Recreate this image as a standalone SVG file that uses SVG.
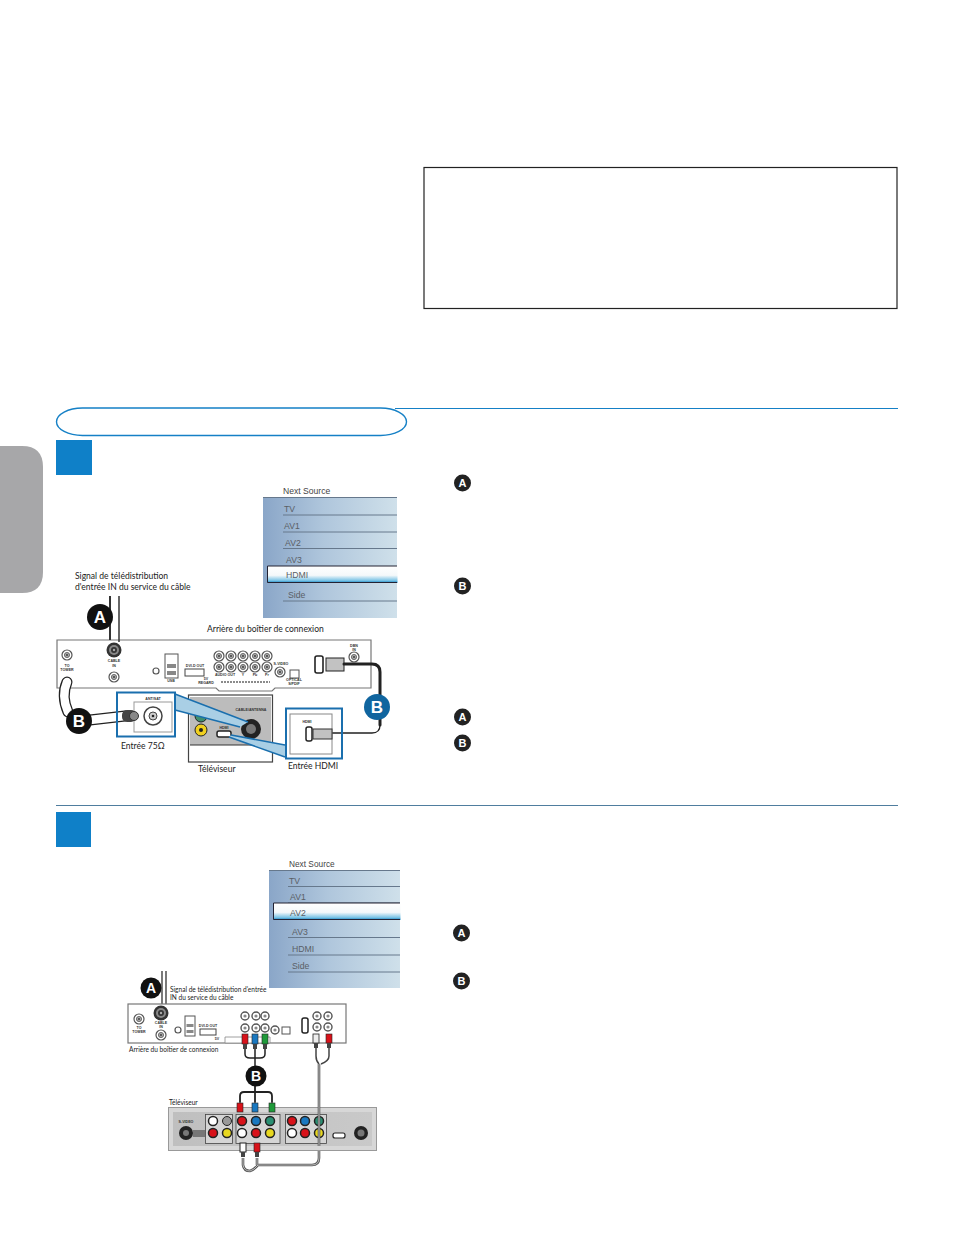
<svg xmlns="http://www.w3.org/2000/svg" xmlns:xlink="http://www.w3.org/1999/xlink" width="954" height="1235" viewBox="0 0 954 1235">
<style>
.lab{font-family:"Lato","Liberation Sans",sans-serif;font-size:8.55px;fill:#222}
.labs{font-family:"Lato","Liberation Sans",sans-serif;font-size:6.55px;fill:#222}
.menu{font-family:"Liberation Sans",Arial,sans-serif;font-size:8.7px;fill:#5a5f66}
.menuh{font-family:"Liberation Sans",Arial,sans-serif;font-size:8.6px;fill:#444}
.mini{font-family:"Liberation Sans",Arial,sans-serif;font-size:3.6px;font-weight:700;fill:#333;text-anchor:middle}
.bl{font-family:"Liberation Sans",Arial,sans-serif;font-weight:700;fill:#fff;text-anchor:middle}
.ln{stroke:#66788c;stroke-width:1;fill:none}
.cbO{fill:none;stroke:#222;stroke-linecap:round;stroke-linejoin:round}
.cbI{fill:none;stroke:#fff;stroke-linecap:round;stroke-linejoin:round}
.dev{fill:#fff;stroke:#777;stroke-width:1.200}
.jk{fill:#fff;stroke:#555;stroke-width:1.200}
</style>
<defs>
<linearGradient id="mg"><stop offset="0" stop-color="#8aa6c8"/><stop offset=".45" stop-color="#afc6dc"/><stop offset="1" stop-color="#cfe0ea"/></linearGradient>
<linearGradient id="hg" x1="0" y1="0" x2="0" y2="1"><stop offset="0" stop-color="#fff"/><stop offset=".55" stop-color="#f4f8fa"/><stop offset=".85" stop-color="#7cc4e6"/><stop offset="1" stop-color="#0f7fc0"/></linearGradient>
<linearGradient id="pg" x1="0" y1="0" x2="1" y2="0"><stop offset="0" stop-color="#bfbfbf"/><stop offset="1" stop-color="#c9c9c9"/></linearGradient>
<g id="jack"><circle r="5" class="jk"/><circle r="2.600" fill="#aaa" stroke="#555" stroke-width=".8"/><circle r=".9" fill="#333"/></g>
<g id="rca"><circle r="4" fill="#fff" stroke="#555" stroke-width="1.400"/><circle r="1.600" fill="#888"/></g>
<g id="knot"><circle r="7.500" fill="#333"/><circle r="5" fill="#888"/><circle r="3" fill="#333"/><circle r="1.200" fill="#aaa"/></g>
</defs>
<rect width="954" height="1235" fill="#fff"/>

<g id="note-box"><rect x="424" y="167.500" width="473" height="141" fill="#fff" stroke="#222" stroke-width="1.200"/></g>
<g id="side-tab"><path d="M0 446H22Q43 446 43 467V572Q43 593 22 593H0Z" fill="#a7a7a9"/></g>

<g id="rules">
<path d="M395 408.500H898" stroke="#1580c6" stroke-width="1.100"/>
<path d="M56 805.500H898" stroke="#4f7d9e" stroke-width="1"/>
</g>
<g id="title-pill"><rect x="56.500" y="408" width="350" height="27.500" rx="26" ry="13.700" fill="#fff" stroke="#1580c6" stroke-width="1.400"/></g>
<g id="step-1"><rect x="56" y="440" width="36" height="35" fill="#0f80c8"/></g>
<g id="step-2"><rect x="56" y="812" width="35" height="35" fill="#0f80c8"/></g>

<g id="markers">
<g id="m-a1"><circle cx="462.500" cy="483" r="8.500" fill="#222"/><text class="bl" x="462.500" y="487" font-size="11">A</text></g>
<g id="m-b1"><circle cx="462.500" cy="586" r="8.500" fill="#222"/><text class="bl" x="462.500" y="590" font-size="11">B</text></g>
<g id="m-a2"><circle cx="462.500" cy="717" r="8.500" fill="#222"/><text class="bl" x="462.500" y="721" font-size="11">A</text></g>
<g id="m-b2"><circle cx="462.500" cy="743" r="8.500" fill="#222"/><text class="bl" x="462.500" y="747" font-size="11">B</text></g>
<g id="m-a3"><circle cx="461.500" cy="933" r="8.500" fill="#222"/><text class="bl" x="461.500" y="937" font-size="11">A</text></g>
<g id="m-b3"><circle cx="461.500" cy="981" r="8.500" fill="#222"/><text class="bl" x="461.500" y="985" font-size="11">B</text></g>
</g>

<g id="menu-1">
<text x="283" y="494" class="menuh">Next Source</text>
<rect x="263" y="497" width="134" height="121" fill="url(#mg)"/>
<path class="ln" d="M263 497.500H397M283 515H397M283 532H397M283 548.500H397M283 601H397"/>
<text x="284" y="512" class="menu">TV</text>
<text x="284" y="529" class="menu">AV1</text>
<text x="285" y="546" class="menu">AV2</text>
<text x="286" y="563" class="menu">AV3</text>
<rect x="267.500" y="566" width="130" height="17" fill="url(#hg)"/>
<path d="M397 566H267.500V582.500H397" fill="none" stroke="#223" stroke-width="1"/>
<text x="286" y="578" class="menu">HDMI</text>
<text x="288" y="598" class="menu">Side</text>
</g>

<g id="menu-2">
<text x="289" y="867" class="menuh" style="font-size:8.300px">Next Source</text>
<rect x="269" y="870" width="131" height="118" fill="url(#mg)"/>
<path class="ln" d="M269 870.500H400M288 886.500H400M288 903H400M288 937.500H400M288 955H400M288 972H400"/>
<text x="289" y="884" class="menu">TV</text>
<text x="290" y="900" class="menu">AV1</text>
<rect x="273.500" y="903" width="127" height="17" fill="url(#hg)"/>
<path d="M400 903H273.500V919.500H400" fill="none" stroke="#223" stroke-width="1"/>
<text x="290" y="916" class="menu">AV2</text>
<text x="292" y="935" class="menu">AV3</text>
<text x="292" y="952" class="menu">HDMI</text>
<text x="292" y="969" class="menu">Side</text>
</g>

<g id="captions">
<text x="75" y="579" class="lab">Signal de télédistribution</text>
<text x="75" y="590" class="lab">d'entrée IN du service du câble</text>
<text x="207" y="632" class="lab">Arrière du boîtier de connexion</text>
<text x="121" y="749" class="lab">Entrée 75Ω</text>
<text x="198" y="772" class="lab">Téléviseur</text>
<text x="288" y="769" class="lab">Entrée HDMI</text>
<text x="170" y="992" class="labs">Signal de télédistribution d'entrée</text>
<text x="170" y="1000" class="labs">IN du service du câble</text>
<text x="129" y="1052" class="labs">Arrière du boîtier de connexion</text>
<text x="169" y="1105" class="labs">Téléviseur</text>
</g>

<g id="settop-1">
<path class="dev" d="M57 640H371V688H275L272 691H219L216 688H57Z"/>
<use xlink:href="#jack" x="67" y="655"/>
<text class="mini" x="67" y="667">TO</text><text class="mini" x="67" y="671">TOWER</text>
<use xlink:href="#knot" x="114" y="650"/>
<text class="mini" x="114" y="662">CABLE</text><text class="mini" x="114" y="667">IN</text>
<use xlink:href="#jack" x="114" y="677"/>
<circle cx="156" cy="671" r="3" class="jk"/>
<rect x="165" y="654" width="13" height="24" fill="#fff" stroke="#555"/>
<rect x="167" y="664" width="9" height="4" fill="#888"/><rect x="167" y="671" width="9" height="4" fill="#888"/>
<text class="mini" x="171" y="682">USB</text>
<text class="mini" x="195" y="667">DVI-D OUT</text>
<rect x="185" y="669" width="19" height="7" fill="#fff" stroke="#444"/>
<text class="mini" x="206" y="680">5V</text><text class="mini" x="206" y="684">REGARD</text>
<use xlink:href="#jack" x="219" y="656"/><use xlink:href="#jack" x="231" y="656"/><use xlink:href="#jack" x="243" y="656"/><use xlink:href="#jack" x="255" y="656"/><use xlink:href="#jack" x="267" y="656"/>
<use xlink:href="#jack" x="219" y="667"/><use xlink:href="#jack" x="231" y="667"/><use xlink:href="#jack" x="243" y="667"/><use xlink:href="#jack" x="255" y="667"/><use xlink:href="#jack" x="267" y="667"/>
<text class="mini" x="225" y="676">AUDIO OUT</text><text class="mini" x="243" y="676">Y</text><text class="mini" x="255" y="676">Pb</text><text class="mini" x="267" y="676">Pr</text>
<text class="mini" x="281" y="665">S-VIDEO</text><use xlink:href="#jack" x="280" y="672"/>
<rect x="290" y="670" width="9" height="8" fill="#fff" stroke="#555"/>
<text class="mini" x="294" y="681">OPTICAL</text><text class="mini" x="294" y="685">S/PDIF</text>
<path d="M221 682H270" stroke="#666" stroke-width="1.500" stroke-dasharray="2 1"/>
<text class="mini" x="354" y="647">DBN</text><text class="mini" x="354" y="651">IN</text>
<use xlink:href="#jack" x="354" y="657"/>
<rect x="315" y="656" width="8" height="17" rx="2" fill="#fff" stroke="#222" stroke-width="1.600"/>
<rect x="326" y="658" width="18" height="13" fill="#c2c2c2" stroke="#222"/>
</g>

<g id="tv-1">
<rect x="188.500" y="695" width="84" height="67" fill="#fff" stroke="#444" stroke-width="1.200"/>
<rect x="190" y="697" width="81" height="48" fill="#bcbcbc"/>
<path d="M190 745H271" stroke="#333" stroke-width="1"/>
<circle cx="201" cy="716" r="6" fill="#3f8f6f" stroke="#222"/>
<circle cx="201" cy="730" r="6" fill="#f0d020" stroke="#222"/><circle cx="201" cy="730" r="2" fill="#222"/>
<rect x="217" y="731" width="14" height="6" rx="2" fill="#fff" stroke="#222" stroke-width="1.500"/>
<text class="mini" x="224" y="729">HDMI</text>
<text class="mini" x="251" y="711">CABLE/ANTENNA</text>
<circle cx="251" cy="729" r="10" fill="#222"/><circle cx="251" cy="729" r="5" fill="#777"/>
</g>

<g id="connectors">
<polygon points="175,694 175,710 240,727 248,722" fill="#a9cfe5"/>
<path d="M175 694 248 722M175 710 240 727" stroke="#1a6fae" stroke-width="1.500" fill="none"/>
<polygon points="231,735 285,745 285,757 229,737" fill="#a9cfe5"/>
<path d="M231 735 285 745M229 737 285 757" stroke="#1a6fae" stroke-width="1.500" fill="none"/>

<path d="M110 596V640" stroke="#333" stroke-width="2"/><path d="M119 596V642" stroke="#333" stroke-width="1.500"/>
<path class="cbO" stroke-width="11" d="M67 682Q61 696 68 712"/><path class="cbI" stroke-width="8.500" d="M67 682Q61 696 68 712"/>
<path class="cbO" stroke-width="11" d="M90 720 125 716"/><path class="cbI" stroke-width="8.500" d="M90 720 125 716"/>
<path class="cbO" stroke-width="3" d="M344 664H372Q380 664 380 672V725"/>
<path d="M380 725Q380 733 372 733H332" fill="none" stroke="#222" stroke-width="1.300"/>

<path d="M162 971V1006M166 971V1006" stroke="#333" stroke-width="1.300"/>
<path class="cbO" stroke-width="1.500" d="M245 1048V1054Q245 1058 250 1058H254M255 1048V1066M265 1048V1054Q265 1058 260 1058H255"/>
<path class="cbO" stroke-width="1.800" stroke="#444" d="M240 1102V1096Q240 1092 244 1092H268Q272 1092 272 1096V1102M255 1086V1102"/>
<path d="M316 1048V1056Q316 1061 319 1064M329 1048V1056Q329 1061 321 1064" stroke="#444" stroke-width="1.500" fill="none"/>
<path d="M319 1064V1158Q319 1165 312 1165H258Q254 1170 250 1171Q244 1171 243 1165L243 1158M257 1158V1165" fill="none" stroke="#555" stroke-width="2.600"/>
<path d="M319 1064V1158Q319 1165 312 1165H258Q254 1170 250 1171Q244 1171 243 1165L243 1158M257 1158V1165" fill="none" stroke="#bbb" stroke-width="1"/>
</g>

<g id="input-box-1">
<rect x="117" y="692.500" width="58" height="44" fill="none" stroke="#1a6fae" stroke-width="2"/>
<rect x="134" y="702" width="38" height="30" fill="#fff" stroke="#999"/>
<text class="mini" x="153" y="700">ANT/SAT</text>
<circle cx="153" cy="716" r="9" fill="#fff" stroke="#444" stroke-width="1.500"/><circle cx="153" cy="716" r="4" fill="#ccc" stroke="#444"/><circle cx="153" cy="716" r="1.300" fill="#222"/>
<rect x="122" y="710" width="14" height="12" rx="5" fill="#444"/><circle cx="134" cy="716" r="4.500" fill="#888" stroke="#333"/>
</g>
<g id="input-box-2">
<rect x="286" y="708.500" width="56" height="50" fill="none" stroke="#1a6fae" stroke-width="2"/>
<rect x="290" y="714" width="42" height="40" fill="#fff" stroke="#888"/>
<text class="mini" x="307" y="723">HDMI</text>
<rect x="306" y="727" width="6" height="14" rx="2" fill="#fff" stroke="#222" stroke-width="1.500"/>
<rect x="313" y="729" width="19" height="10" fill="#c2c2c2" stroke="#333"/>
</g>

<g id="badges-1">
<g id="badge-a1"><circle cx="100" cy="617" r="13" fill="#111"/><text class="bl" x="100" y="623" font-size="17">A</text></g>
<g id="badge-b1"><circle cx="79" cy="721" r="13" fill="#111"/><text class="bl" x="79" y="727" font-size="17">B</text></g>
<g id="badge-b2"><circle cx="377" cy="707" r="13" fill="#10659f"/><text class="bl" x="377" y="713" font-size="17">B</text></g>
</g>

<g id="settop-2">
<rect class="dev" x="128" y="1004" width="218" height="39"/>
<use xlink:href="#jack" x="139" y="1019"/>
<text class="mini" x="139" y="1029">TO</text><text class="mini" x="139" y="1033">TOWER</text>
<use xlink:href="#knot" x="161" y="1013"/>
<text class="mini" x="161" y="1024">CABLE</text><text class="mini" x="161" y="1028">IN</text>
<use xlink:href="#jack" x="161" y="1035"/>
<circle cx="178" cy="1030" r="3" class="jk"/>
<rect x="185" y="1016" width="10" height="20" fill="#fff" stroke="#555"/>
<rect x="186.500" y="1024" width="7" height="3" fill="#888"/><rect x="186.500" y="1030" width="7" height="3" fill="#888"/>
<text class="mini" x="208" y="1027">DVI-D OUT</text>
<rect x="200" y="1029" width="16" height="6" fill="#fff" stroke="#444"/>
<text class="mini" x="217" y="1040">5V</text>
<use xlink:href="#rca" x="245" y="1016"/><use xlink:href="#rca" x="256" y="1016"/><use xlink:href="#rca" x="265" y="1016"/>
<use xlink:href="#rca" x="245" y="1028"/><use xlink:href="#rca" x="256" y="1028"/><use xlink:href="#rca" x="265" y="1028"/>
<use xlink:href="#rca" x="275" y="1030"/>
<rect x="282" y="1027" width="8" height="7" fill="#fff" stroke="#555"/>
<rect x="302" y="1018" width="6" height="15" rx="2" fill="#fff" stroke="#222" stroke-width="1.500"/>
<use xlink:href="#rca" x="317" y="1016"/><use xlink:href="#rca" x="328" y="1016"/>
<use xlink:href="#rca" x="317" y="1027"/><use xlink:href="#rca" x="328" y="1027"/>
<path d="M225 1037H270V1043H225Z" fill="#fff" stroke="#888" stroke-width=".8"/>
</g>

<g id="plugs-2">
<rect x="242" y="1034" width="6" height="10" fill="#d8121a" stroke="#222" stroke-width=".6"/><rect x="243" y="1044" width="4" height="5" fill="#444"/>
<rect x="252" y="1034" width="6" height="10" fill="#1a78c0" stroke="#222" stroke-width=".6"/><rect x="253" y="1044" width="4" height="5" fill="#444"/>
<rect x="262" y="1034" width="6" height="10" fill="#1f9a3a" stroke="#222" stroke-width=".6"/><rect x="263" y="1044" width="4" height="5" fill="#444"/>
<rect x="313" y="1034" width="6" height="9" fill="#eee" stroke="#222" stroke-width=".8"/><rect x="314" y="1043" width="4" height="5" fill="#444"/>
<rect x="326" y="1034" width="6" height="9" fill="#d8121a" stroke="#222" stroke-width=".6"/><rect x="327" y="1043" width="4" height="5" fill="#444"/>
</g>
<g id="badge-a3"><circle cx="151" cy="988" r="10.500" fill="#111"/><text class="bl" x="151" y="993" font-size="14">A</text></g>
<g id="badge-b3"><circle cx="256" cy="1076" r="10.500" fill="#111"/><text class="bl" x="256" y="1081" font-size="14">B</text></g>

<g id="tv-2">
<rect x="168.500" y="1107.500" width="208" height="43" fill="#d7d7d7" stroke="#999"/>
<rect x="173" y="1112" width="199" height="34" fill="url(#pg)"/>
<text class="mini" x="186" y="1123">S-VIDEO</text>
<circle cx="186" cy="1133" r="7" fill="#222"/><circle cx="186" cy="1133" r="3" fill="#777"/>
<rect x="193" y="1130" width="12" height="7" fill="#777"/>
<rect x="205.500" y="1114.500" width="27" height="29" fill="#d5d5d5" stroke="#444" stroke-width=".8"/>
<rect x="236" y="1114.500" width="44" height="29" fill="#d5d5d5" stroke="#444" stroke-width=".8"/>
<rect x="285.500" y="1114.500" width="41" height="29" fill="#d5d5d5" stroke="#444" stroke-width=".8"/>
<circle cx="213" cy="1121" r="4.500" fill="#fff" stroke="#222" stroke-width="1.500"/><circle cx="213" cy="1133" r="4.500" fill="#d8121a" stroke="#222" stroke-width="1.500"/>
<circle cx="227" cy="1133" r="4.500" fill="#e8d820" stroke="#222" stroke-width="1.500"/><circle cx="227" cy="1121" r="4.500" fill="#999" stroke="#222"/>
<circle cx="242" cy="1121" r="4.500" fill="#d8121a" stroke="#222" stroke-width="1.500"/><circle cx="256" cy="1121" r="4.500" fill="#1a78c0" stroke="#222" stroke-width="1.500"/><circle cx="270" cy="1121" r="4.500" fill="#2a8f72" stroke="#222" stroke-width="1.500"/>
<circle cx="242" cy="1133" r="4.500" fill="#fff" stroke="#222" stroke-width="1.500"/><circle cx="256" cy="1133" r="4.500" fill="#d8121a" stroke="#222" stroke-width="1.500"/><circle cx="270" cy="1133" r="4.500" fill="#e8d820" stroke="#222" stroke-width="1.500"/>
<circle cx="292" cy="1121" r="4.500" fill="#d8121a" stroke="#222" stroke-width="1.500"/><circle cx="305" cy="1121" r="4.500" fill="#1a78c0" stroke="#222" stroke-width="1.500"/><circle cx="319" cy="1121" r="4.500" fill="#2a8f72" stroke="#222" stroke-width="1.500"/>
<circle cx="292" cy="1133" r="4.500" fill="#fff" stroke="#222" stroke-width="1.500"/><circle cx="305" cy="1133" r="4.500" fill="#d8121a" stroke="#222" stroke-width="1.500"/><circle cx="319" cy="1133" r="4.500" fill="#e8d820" stroke="#222" stroke-width="1.500"/>
<rect x="333" y="1133" width="12" height="5" rx="2" fill="#fff" stroke="#222" stroke-width="1.200"/>
<circle cx="361" cy="1133" r="7" fill="#222"/><circle cx="361" cy="1133" r="3.500" fill="#777"/>
<path d="M319 1107V1146" stroke="#555" stroke-width="2.600"/>
<path d="M319 1107V1146" stroke="#bbb" stroke-width="1"/>
</g>
<g id="plugs-2b">
<rect x="237" y="1103" width="6" height="9" fill="#d8121a" stroke="#222" stroke-width=".6"/>
<rect x="252" y="1103" width="6" height="9" fill="#1a78c0" stroke="#222" stroke-width=".6"/>
<rect x="269" y="1103" width="6" height="9" fill="#1f9a3a" stroke="#222" stroke-width=".6"/>
<rect x="240" y="1143" width="6" height="9" fill="#fff" stroke="#222"/><rect x="241" y="1152" width="4" height="5" fill="#444"/>
<rect x="254" y="1143" width="6" height="9" fill="#d8121a" stroke="#222" stroke-width=".6"/><rect x="255" y="1152" width="4" height="5" fill="#444"/>
</g>
</svg>
